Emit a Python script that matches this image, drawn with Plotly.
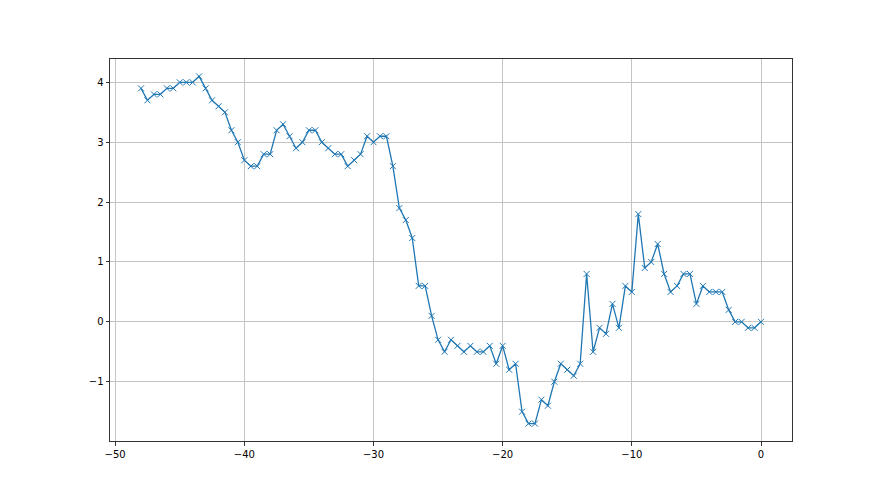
import numpy as np
import plotly.graph_objects as go

x_values = [-48 + 0.5 * i for i in range(97)]
y_values = [
    3.9, 3.7, 3.8, 3.8, 3.9, 3.9, 4.0, 4.0, 4.0, 4.1,
    3.9, 3.7, 3.6, 3.5, 3.2, 3.0, 2.7, 2.6, 2.6, 2.8,
    2.8, 3.2, 3.3, 3.1, 2.9, 3.0, 3.2, 3.2, 3.0, 2.9,
    2.8, 2.8, 2.6, 2.7, 2.8, 3.1, 3.0, 3.1, 3.1, 2.6,
    1.9, 1.7, 1.4, 0.6, 0.6, 0.1, -0.3, -0.5, -0.3, -0.4,
    -0.5, -0.4, -0.5, -0.5, -0.4, -0.7, -0.4, -0.8, -0.7, -1.5,
    -1.7, -1.7, -1.3, -1.4, -1.0, -0.7, -0.8, -0.9, -0.7, 0.8,
    -0.5, -0.1, -0.2, 0.3, -0.1, 0.6, 0.5, 1.8, 0.9, 1.0,
    1.3, 0.8, 0.5, 0.6, 0.8, 0.8, 0.3, 0.6, 0.5, 0.5,
    0.5, 0.2, 0.0, 0.0, -0.1, -0.1, 0.0,
]
x_ticks = [-50, -40, -30, -20, -10, 0]
y_ticks = [-1, 0, 1, 2, 3, 4]

fig = go.Figure()
fig.add_trace(go.Scatter(
    x=x_values, y=y_values, mode="lines+markers",
    line=dict(color="#1f77b4", width=1.3),
    marker=dict(symbol="x-thin", size=6, line=dict(color="#1f77b4", width=1)),
    showlegend=False,
))

axis_common = dict(
    showgrid=True, gridcolor="#c4c4c4", gridwidth=0.8,
    showline=True, linecolor="#333333", linewidth=1, mirror=True,
    ticks="outside", ticklen=3.5, tickwidth=0.8, tickcolor="#333333",
    zeroline=False, tickfont=dict(family="DejaVu Sans", size=10, color="black"),
)
fig.update_xaxes(range=[-50.4, 2.4], tickvals=x_ticks, **axis_common)
fig.update_yaxes(range=[-1.99, 4.39], tickvals=y_ticks, **axis_common)

fig.update_layout(
    width=880, height=495,
    margin=dict(l=102, r=96, t=51, b=62),
    paper_bgcolor="white", plot_bgcolor="white",
)
fig.write_html("out.html")
